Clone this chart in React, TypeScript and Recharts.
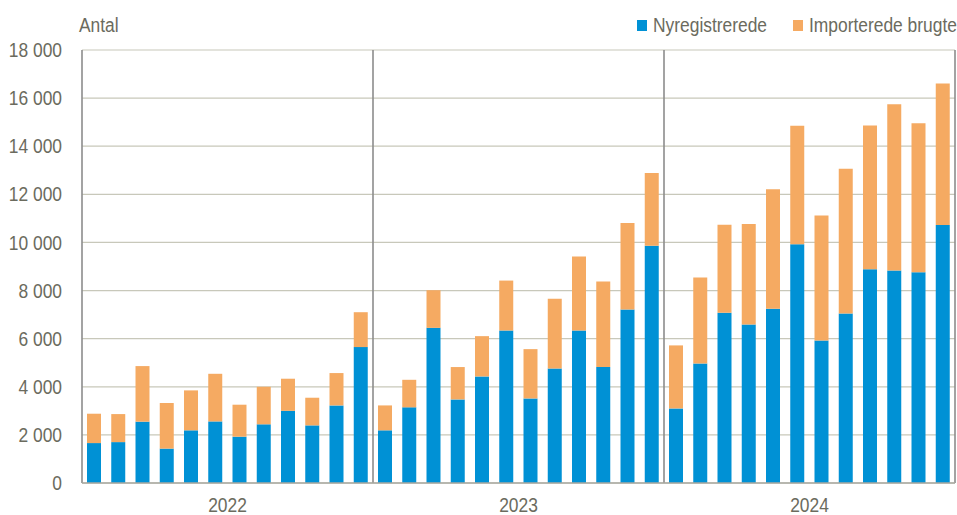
import React from 'react';
import {
  BarChart,
  Bar,
  XAxis,
  YAxis,
  CartesianGrid,
  Legend,
} from 'recharts';

const years = ['2022', '2023', '2024'];
const monthNames = ['jan', 'feb', 'mar', 'apr', 'maj', 'jun', 'jul', 'aug', 'sep', 'okt', 'nov', 'dec'];

// Nyregistrerede (blå)
const nyregistrerede = [
  1660, 1700, 2550, 1430, 2190, 2560, 1925, 2440, 3000, 2395, 3225, 5650,
  2190, 3145, 6450, 3475, 4430, 6340, 3515, 4765, 6340, 4820, 7215, 9860,
  3100, 4970, 7075, 6585, 7240, 9925, 5925, 7045, 8890, 8835, 8765, 10725,
];

// Importerede brugte (orange)
const importerede = [
  1220, 1165, 2310, 1895, 1660, 1980, 1330, 1560, 1335, 1150, 1345, 1450,
  1035, 1145, 1565, 1345, 1675, 2075, 2050, 2890, 3075, 3555, 3595, 3025,
  2620, 3570, 3665, 4185, 4970, 4925, 5190, 6020, 5975, 6905, 6195, 5885,
];

const yTicks = [0, 2000, 4000, 6000, 8000, 10000, 12000, 14000, 16000, 18000];

const seriesNames = ['Nyregistrerede', 'Importerede brugte'];
const colours = { ny: '#0091d5', imp: '#f5aa62' };

const data = years.flatMap((year, yi) =>
  monthNames.map((m, mi) => ({
    month: `${m} ${year}`,
    year,
    ny: nyregistrerede[yi * 12 + mi],
    imp: importerede[yi * 12 + mi],
  }))
);

const font = '"Liberation Sans", Arial, sans-serif';
const textColour = '#6b6b5e';
const fontSize = 20;
const squeeze = 0.87; // the original uses a narrow face

const formatTick = (v: number) =>
  v >= 1000 ? `${Math.floor(v / 1000)} ${String(v % 1000).padStart(3, '0')}` : String(v);

function NarrowText({ x, y, anchor, dy, children }: any) {
  return (
    <text
      transform={`translate(${x},${y}) scale(${squeeze},1)`}
      textAnchor={anchor}
      dy={dy}
      fill={textColour}
      fontSize={fontSize}
      fontFamily={font}
    >
      {children}
    </text>
  );
}

const YTick = ({ x, y, payload }: any) => (
  <NarrowText x={x} y={y} anchor="end" dy="0.355em">
    {formatTick(payload.value)}
  </NarrowText>
);

const YearTick = ({ x, y, payload }: any) => (
  <NarrowText x={x} y={y} anchor="middle" dy="0.71em">
    {payload.value}
  </NarrowText>
);

function LegendContent() {
  const items = [
    { name: seriesNames[0], colour: colours.ny, x: 637 },
    { name: seriesNames[1], colour: colours.imp, x: 793 },
  ];
  return (
    <svg width={957} height={24} style={{ display: 'block', overflow: 'visible' }}>
      <NarrowText x={79} y={19} anchor="start">
        Antal
      </NarrowText>
      {items.map((item) => (
        <g key={item.name}>
          <rect x={item.x} y={7} width={10} height={11} fill={item.colour} />
          <NarrowText x={item.x + 16} y={19} anchor="start">
            {item.name}
          </NarrowText>
        </g>
      ))}
    </svg>
  );
}

export default function App() {
  return (
    <div style={{ position: 'absolute', left: 0, top: 0, width: 957, height: 515, background: '#fff' }}>
      <BarChart
        width={957}
        height={515}
        data={data}
        margin={{ top: 26, right: 2, bottom: 0, left: 0 }}
        barSize={14}
      >
        <CartesianGrid vertical={false} stroke="#c8c8ba" strokeWidth={1.2} />
        <CartesianGrid
          horizontal={false}
          stroke="#8c8c8c"
          strokeWidth={1.6}
          verticalCoordinatesGenerator={({ offset }: any) =>
            [0, 1, 2, 3].map((k) => offset.left + (offset.width * k) / 3)
          }
        />
        <XAxis xAxisId="month" dataKey="month" hide height={0} />
        <XAxis
          xAxisId="year"
          dataKey="year"
          allowDuplicatedCategory={false}
          height={32}
          tickSize={0}
          tickMargin={15}
          axisLine={{ stroke: '#a9a9a0', strokeWidth: 1.6 }}
          tick={<YearTick />}
        />
        <YAxis
          width={82}
          domain={[0, 18000]}
          ticks={yTicks}
          interval={0}
          tickSize={0}
          tickMargin={20}
          axisLine={false}
          tick={<YTick />}
        />
        <Legend
          verticalAlign="top"
          align="left"
          content={() => <LegendContent />}
          wrapperStyle={{ top: 13, left: 0, width: 957, height: 24 }}
        />
        <Bar
          xAxisId="month"
          dataKey="ny"
          name={seriesNames[0]}
          stackId="a"
          fill={colours.ny}
          isAnimationActive={false}
        />
        <Bar
          xAxisId="month"
          dataKey="imp"
          name={seriesNames[1]}
          stackId="a"
          fill={colours.imp}
          isAnimationActive={false}
        />
      </BarChart>
    </div>
  );
}
